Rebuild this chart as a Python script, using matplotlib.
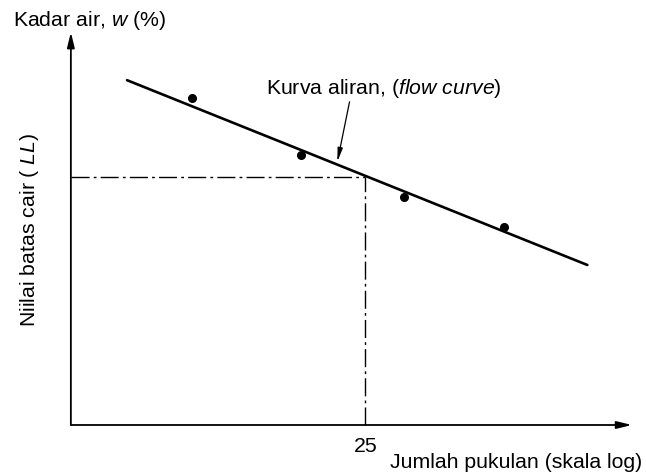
import numpy as np
import matplotlib
matplotlib.use("Agg")
import matplotlib.pyplot as plt

plt.rcParams['font.family'] = ['Liberation Sans', 'DejaVu Sans']
plt.rcParams['mathtext.fontset'] = 'custom'
plt.rcParams['mathtext.rm'] = 'Liberation Sans'
plt.rcParams['mathtext.it'] = 'Liberation Sans:italic'

# Data (number of blows, log scale; water content %)
blows = [10.3, 18.0, 30.5, 51.0]
water = [70.9, 63.8, 58.5, 54.8]
curve_blows = [7.4, 78.0]
curve_water = [73.1, 50.0]
ll_blows = 25
ll_water = 61.0
x_origin = 5.55
y_origin = 30.0
x_end = 98.0
y_end = 79.1
tick_label = "25"

W, H = 646, 477
fig = plt.figure(figsize=(W / 100, H / 100), dpi=100)
ax = fig.add_axes([0, 0, 1, 1])
ax.set_xscale('log')
ax.set_xlim(3.862, 105.3)
ax.set_ylim(23.625, 83.25)
ax.axis('off')

# axes with arrows
ax.annotate('', xy=(x_end, y_origin), xytext=(x_origin, y_origin),
            arrowprops=dict(arrowstyle='-|>,head_length=0.9,head_width=0.22',
                            color='black', lw=1.3, shrinkA=0, shrinkB=0))
ax.annotate('', xy=(x_origin, y_end), xytext=(x_origin, y_origin),
            arrowprops=dict(arrowstyle='-|>,head_length=0.9,head_width=0.22',
                            color='black', lw=1.3, shrinkA=0, shrinkB=0))

# dash-dot guides
ax.plot([x_origin, ll_blows], [ll_water, ll_water], color='black', lw=1.0,
        linestyle=(0, (13, 3, 2, 3)))
ax.plot([ll_blows, ll_blows], [y_origin, ll_water], color='black', lw=1.0,
        linestyle=(0, (13, 3, 2, 3)))

# flow curve
ax.plot(curve_blows, curve_water, color='black', lw=1.9, solid_capstyle='round')
ax.plot(blows, water, 'o', color='black', markersize=5.5)

# annotation arrow
ax.annotate('', xy=(21.7, 62.9), xytext=(23.1, 70.4),
            arrowprops=dict(arrowstyle='-|>,head_length=0.8,head_width=0.15',
                            color='black', lw=0.9, shrinkA=0, shrinkB=0))

def px(x, y):
    return x / W, 1 - y / H

fs = 15.3
fig.text(*px(266, 89), r'Kurva aliran, ($\it{flow\ curve}$)', fontsize=fs, va='center', ha='left')
fig.text(*px(13, 21), r'Kadar air, $\it{w}$ (%)', fontsize=fs, va='center', ha='left')
fig.text(*px(30, 230), r'Niilai batas cair ( $\it{LL}$)', fontsize=fs, va='center', ha='center',
         rotation=90)
fig.text(*px(366, 447), tick_label, fontsize=fs, va='center', ha='center')
fig.text(*px(390, 463), 'Jumlah pukulan (skala log)', fontsize=fs, va='center', ha='left')

fig.savefig('out.png', dpi=100, facecolor='white')
